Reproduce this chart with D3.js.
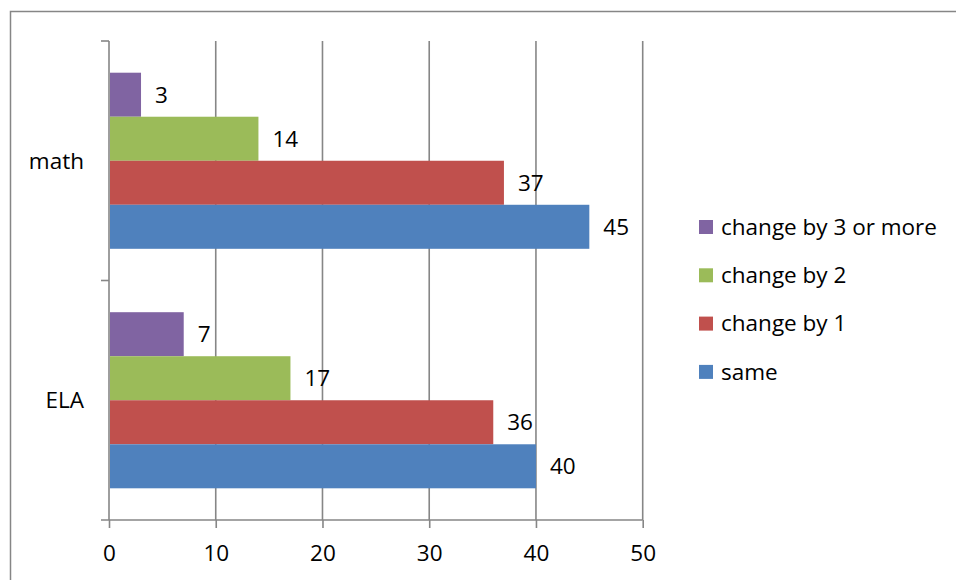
<!DOCTYPE html>
<html>
<head>
<meta charset="utf-8">
<script src="https://cdn.jsdelivr.net/npm/d3@7"></script>
<style>
  body { margin: 0; background: #fff; }
  text { font-family: "Open Sans", sans-serif; fill: #000; }
</style>
</head>
<body>
<div id="chart"></div>
<script>
// Data
const categories = ["math", "ELA"];
const seriesNames = ["change by 3 or more", "change by 2", "change by 1", "same"];
const seriesColors = ["#8064A2", "#9BBB59", "#C0504D", "#4F81BD"];
const mathValues = [3, 14, 37, 45];
const elaValues = [7, 17, 36, 40];
const xTicks = [0, 10, 20, 30, 40, 50];

const values = { math: mathValues, ELA: elaValues };

const svgWidth = 956;
const svgHeight = 580;
const fontSize = 22.5;

const svg = d3.select("#chart").append("svg")
    .attr("width", svgWidth)
    .attr("height", svgHeight);

// outer chart border
svg.append("rect")
    .attr("x", 10.5).attr("y", 11.5)
    .attr("width", 960).attr("height", 600)
    .attr("fill", "none")
    .attr("stroke", "#868686")
    .attr("stroke-width", 1.5);

const x = d3.scaleLinear().domain([0, 50]).range([109, 642.7]);
const y0 = d3.scaleBand().domain(categories).range([41, 520]).padding(0);
const y1 = d3.scaleBand().domain(seriesNames).range([0, y0.bandwidth()]).paddingInner(0).paddingOuter(0.72);
const color = d3.scaleOrdinal().domain(seriesNames).range(seriesColors);

const axisColor = "#868686";

// vertical gridlines
svg.append("g")
    .selectAll("line")
    .data(xTicks.slice(1))
    .enter().append("line")
    .attr("x1", d => x(d)).attr("x2", d => x(d))
    .attr("y1", 41).attr("y2", 520)
    .attr("stroke", axisColor)
    .attr("stroke-width", 1.6);

// bars
const groups = svg.append("g")
    .selectAll("g")
    .data(categories)
    .enter().append("g")
    .attr("transform", d => `translate(0,${y0(d)})`);

groups.selectAll("rect")
    .data(c => seriesNames.map((s, i) => ({ s, v: values[c][i] })))
    .enter().append("rect")
    .attr("x", x(0) + 1)
    .attr("y", d => y1(d.s))
    .attr("width", d => x(d.v) - x(0) - 1)
    .attr("height", y1.bandwidth())
    .attr("fill", d => color(d.s));

// data labels
groups.selectAll("text")
    .data(c => seriesNames.map((s, i) => ({ s, v: values[c][i] })))
    .enter().append("text")
    .attr("x", d => x(d.v) + 14)
    .attr("y", d => y1(d.s) + y1.bandwidth() / 2)
    .attr("dy", "0.35em")
    .style("font-size", fontSize + "px")
    .text(d => d.v);

// x axis
const xAxis = svg.append("g")
    .attr("transform", "translate(0,520)")
    .call(d3.axisBottom(x).tickValues(xTicks).tickSize(8).tickSizeOuter(0).tickPadding(17));
xAxis.select(".domain").attr("stroke", axisColor).attr("stroke-width", 1.6)
    .attr("d", `M${x(0) - 8},0H${x(50)}`);
xAxis.selectAll(".tick line").attr("stroke", axisColor).attr("stroke-width", 1.6);
xAxis.selectAll(".tick text").style("font-size", fontSize + "px").style("font-family", "Open Sans");

// y axis
const yAxisG = svg.append("g");
yAxisG.append("line")
    .attr("x1", x(0)).attr("x2", x(0))
    .attr("y1", 41).attr("y2", 520)
    .attr("stroke", axisColor).attr("stroke-width", 1.6);
yAxisG.selectAll("line.tk")
    .data([41, y0("ELA")])
    .enter().append("line")
    .attr("class", "tk")
    .attr("x1", x(0) - 8).attr("x2", x(0))
    .attr("y1", d => d).attr("y2", d => d)
    .attr("stroke", axisColor).attr("stroke-width", 1.6);
yAxisG.selectAll("text")
    .data(categories)
    .enter().append("text")
    .attr("x", 84)
    .attr("y", d => y0(d) + y0.bandwidth() / 2)
    .attr("dy", "0.35em")
    .attr("text-anchor", "end")
    .style("font-size", fontSize + "px")
    .text(d => d);

// legend
const legend = svg.append("g")
    .selectAll("g")
    .data(seriesNames)
    .enter().append("g")
    .attr("transform", (d, i) => `translate(699,${227 + i * 48.3})`);
legend.append("rect")
    .attr("x", 0).attr("y", -7)
    .attr("width", 14).attr("height", 14)
    .attr("fill", d => color(d));
legend.append("text")
    .attr("x", 22)
    .attr("dy", "0.35em")
    .style("font-size", fontSize + "px")
    .text(d => d);
</script>
</body>
</html>
